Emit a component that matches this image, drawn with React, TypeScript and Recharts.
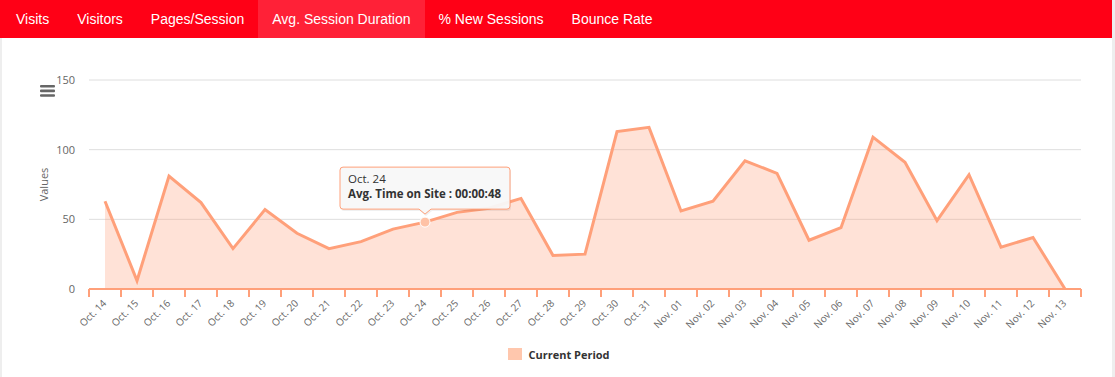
import React from 'react';
import { AreaChart, Area, XAxis, YAxis, CartesianGrid, Legend } from 'recharts';

const tabs = ['Visits', 'Visitors', 'Pages/Session', 'Avg. Session Duration', '% New Sessions', 'Bounce Rate'];
const activeTab = 'Avg. Session Duration';

const days = [
  'Oct. 14', 'Oct. 15', 'Oct. 16', 'Oct. 17', 'Oct. 18', 'Oct. 19', 'Oct. 20', 'Oct. 21',
  'Oct. 22', 'Oct. 23', 'Oct. 24', 'Oct. 25', 'Oct. 26', 'Oct. 27', 'Oct. 28', 'Oct. 29',
  'Oct. 30', 'Oct. 31', 'Nov. 01', 'Nov. 02', 'Nov. 03', 'Nov. 04', 'Nov. 05', 'Nov. 06',
  'Nov. 07', 'Nov. 08', 'Nov. 09', 'Nov. 10', 'Nov. 11', 'Nov. 12', 'Nov. 13',
];
// avg session duration, seconds
const seconds = [
  63, 6, 81, 62, 29, 57, 40, 29, 34, 43, 48, 55, 58, 65, 24, 25,
  113, 116, 56, 63, 92, 83, 35, 44, 109, 91, 49, 82, 30, 37, 0,
];
const yTicks = [0, 50, 100, 150];
const seriesName = 'Current Period';
const tooltipIndex = 10;

const data = days.map((day, i) => ({ day, seconds: seconds[i] }));

const ORANGE = '#ffa07a';
const FONT = '"Open Sans", sans-serif';
const CHART_W = 1115;
const MARGIN = { top: 42, right: 34, left: 29, bottom: 13 };
const Y_AXIS_W = 60;
const X_PAD = 16;
const PLOT_W = CHART_W - MARGIN.left - MARGIN.right - Y_AXIS_W;
const STEP = (PLOT_W - 2 * X_PAD) / (days.length - 1);

const fmtTime = (s: number) => {
  const p = (n: number) => String(n).padStart(2, '0');
  return `${p(Math.floor(s / 3600))}:${p(Math.floor((s % 3600) / 60))}:${p(s % 60)}`;
};

function XTick(props: any) {
  const { x, y, payload, index } = props;
  const half = STEP / 2;
  return (
    <g>
      <line x1={x - half} x2={x - half} y1={y} y2={y + 8} stroke={ORANGE} strokeWidth={2} />
      {index === days.length - 1 && (
        <line x1={x + half} x2={x + half} y1={y} y2={y + 8} stroke={ORANGE} strokeWidth={2} />
      )}
      <text
        x={x + 2}
        y={y + 15}
        transform={`rotate(-45 ${x + 2} ${y + 15})`}
        textAnchor="end"
        fontSize={10}
        fill="#666"
        fontFamily={FONT}
      >
        {payload.value}
      </text>
    </g>
  );
}

function renderDot(props: any) {
  const { cx, cy, index } = props;
  if (index !== tooltipIndex) return <g key={`d${index}`} />;
  const w = 170;
  const h = 42;
  const left = cx - w / 2;
  const top = cy - 55;
  const bottom = top + h;
  const callout = `M${left + 3},${top} H${left + w - 3} Q${left + w},${top} ${left + w},${top + 3} V${bottom - 3} Q${left + w},${bottom} ${left + w - 3},${bottom} H${cx + 6} L${cx},${bottom + 5} L${cx - 6},${bottom} H${left + 3} Q${left},${bottom} ${left},${bottom - 3} V${top + 3} Q${left},${top} ${left + 3},${top} Z`;
  return (
    <g key={`d${index}`}>
      <circle cx={cx} cy={cy} r={5} fill="#ffc2a6" stroke="#fff" strokeWidth={1} />
      <path d={callout} fill="#000" opacity={0.06} transform="translate(1 2)" />
      <path d={callout} fill="#f8f8f8" fillOpacity={0.95} stroke={ORANGE} strokeWidth={1} />
      <text x={left + 8} y={cy - 39} fontSize={11.5} fill="#333" fontFamily={FONT}>
        {days[index]}
      </text>
      <text x={left + 8} y={cy - 24} fontSize={11.5} fontWeight="bold" fill="#333" fontFamily={FONT}>
        {`Avg. Time on Site : ${fmtTime(seconds[index])}`}
      </text>
    </g>
  );
}

function LegendContent() {
  return (
    <div style={{ height: 20, display: 'flex', justifyContent: 'center', alignItems: 'center', paddingLeft: 8, fontFamily: FONT }}>
      <span style={{ width: 14, height: 12, background: '#ffc7ad', marginRight: 6 }} />
      <span style={{ fontSize: 11, fontWeight: 'bold', color: '#333' }}>{seriesName}</span>
    </div>
  );
}

export default function App() {
  return (
    <div style={{ position: 'absolute', left: 0, top: 0, width: 1115, height: 377, background: '#fff', overflow: 'hidden' }}>
      <div style={{ position: 'absolute', left: 0, top: 38, width: 2, height: 339, background: '#eee' }} />
      <div style={{ position: 'absolute', left: 1112, top: 0, width: 3, height: 377, background: '#eee' }} />
      <div
        style={{
          position: 'absolute', left: 0, top: 0, width: 1112, height: 38, background: '#ff0016',
          display: 'flex', paddingLeft: 2, boxSizing: 'border-box',
          fontFamily: '"Liberation Sans", Arial, sans-serif', fontSize: 14, color: '#fff',
        }}
      >
        {tabs.map((t) => (
          <div
            key={t}
            style={{
              padding: '0 14px', lineHeight: '38px',
              background: t === activeTab ? '#ff2137' : 'transparent',
            }}
          >
            {t}
          </div>
        ))}
      </div>

      <svg style={{ position: 'absolute', left: 40, top: 85 }} width={16} height={13}>
        <rect x={0} y={0} width={15} height={2.6} rx={1} fill="#666" />
        <rect x={0} y={4.6} width={15} height={2.6} rx={1} fill="#666" />
        <rect x={0} y={9.2} width={15} height={2.6} rx={1} fill="#666" />
      </svg>

      <div style={{ position: 'absolute', left: 0, top: 38 }}>
        <AreaChart width={CHART_W} height={339} data={data} margin={MARGIN} style={{ fontFamily: FONT }}>
          <CartesianGrid vertical={false} stroke="#dedede" />
          <XAxis
            dataKey="day"
            interval={0}
            padding={{ left: X_PAD, right: X_PAD }}
            height={55}
            tickLine={false}
            tickSize={0}
            tickMargin={0}
            axisLine={{ stroke: ORANGE, strokeWidth: 2 }}
            tick={<XTick />}
          />
          <YAxis
            width={Y_AXIS_W}
            domain={[0, 150]}
            ticks={yTicks}
            axisLine={false}
            tickLine={false}
            tickSize={0}
            tickMargin={14}
            tick={{ fontSize: 11, fill: '#666', fontFamily: FONT }}
            label={({ viewBox }: any) => (
              <text
                x={viewBox.x + 19}
                y={viewBox.y + viewBox.height / 2}
                transform={`rotate(-90 ${viewBox.x + 19} ${viewBox.y + viewBox.height / 2})`}
                textAnchor="middle"
                fontSize={11}
                fill="#666"
                fontFamily={FONT}
              >
                Values
              </text>
            )}
          />
          <Legend verticalAlign="bottom" align="center" content={<LegendContent />} />
          <Area
            type="linear"
            dataKey="seconds"
            name={seriesName}
            stroke={ORANGE}
            strokeWidth={3}
            fill={ORANGE}
            fillOpacity={0.3}
            dot={renderDot}
            activeDot={false}
            isAnimationActive={false}
          />
        </AreaChart>
      </div>
    </div>
  );
}
